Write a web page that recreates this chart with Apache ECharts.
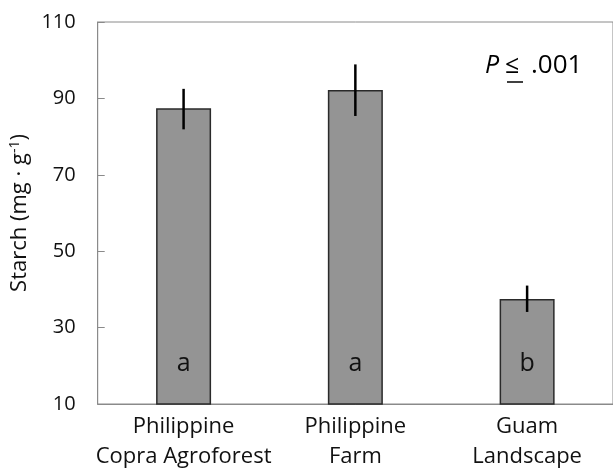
<!DOCTYPE html>
<html><head><meta charset="utf-8">
<script src="https://cdn.jsdelivr.net/npm/echarts@6/dist/echarts.min.js"></script>
<style>html,body{margin:0;padding:0;background:#fff}#c{width:613px;height:472px}</style>
</head><body><div id="c"></div>
<script>
const categories = ['Philippine\nCopra Agroforest', 'Philippine\nFarm', 'Guam\nLandscape'];
const means = [87.4, 92.2, 37.5];
const errLow = [81.9, 85.4, 34.1];
const errHigh = [92.5, 98.9, 41.0];
const letters = ['a', 'a', 'b'];
const yTicks = [10, 30, 50, 70, 90, 110];

const FONT = 'Open Sans';
const chart = echarts.init(document.getElementById('c'), null, {renderer: 'canvas'});
chart.setOption({
  animation: false,
  backgroundColor: '#fff',
  grid: {left: 94, top: 22, width: 525, bottom: 66, show: true, borderColor: '#8a8a8a', borderWidth: 1},
  xAxis: {
    type: 'category', data: categories,
    axisLine: {lineStyle: {color: '#8a8a8a', width: 1}},
    axisTick: {show: false},
    axisLabel: {interval: 0, fontFamily: FONT, fontSize: 22, color: '#111', lineHeight: 30, margin: 8}
  },
  yAxis: {
    type: 'value', min: yTicks[0], max: yTicks[yTicks.length - 1], interval: 20,
    name: '{n|Starch (mg · g}{sup|-1}{n|)}', nameLocation: 'middle', nameGap: 52,
    nameTextStyle: {fontFamily: FONT, fontSize: 22, color: '#111',
      rich: {
        n: {fontFamily: FONT, fontSize: 22, color: '#111'},
        sup: {fontFamily: FONT, fontSize: 14, verticalAlign: 'top', padding: [0, 0, 9, 0], color: '#111'}
      }},
    axisLine: {show: true, lineStyle: {color: '#8a8a8a', width: 1}},
    axisTick: {show: true, inside: true, length: 7, lineStyle: {color: '#8a8a8a'}},
    splitLine: {show: false},
    axisLabel: {fontFamily: FONT, fontSize: 20, color: '#111', margin: 22}
  },
  series: [
    {
      type: 'bar', data: means, barWidth: 55,
      itemStyle: {color: '#949494', borderColor: '#2a2a2a', borderWidth: 1.5},
      label: {show: true, position: 'insideBottom', distance: 28, formatter: p => letters[p.dataIndex],
        fontFamily: FONT, fontSize: 25, color: '#111'}
    },
    {
      type: 'custom',
      data: means.map((m, i) => [i, errLow[i], errHigh[i]]),
      renderItem: function (params, api) {
        const lo = api.coord([api.value(0), api.value(1)]);
        const hi = api.coord([api.value(0), api.value(2)]);
        return {type: 'line', shape: {x1: lo[0], y1: lo[1], x2: hi[0], y2: hi[1]},
          style: {stroke: '#000', lineWidth: 2.5}};
      },
      z: 10
    }
  ],
  graphic: [
    {type: 'text', left: 485, top: 53, style: {text: 'P', font: 'italic 25px ' + FONT, fill: '#000'}},
    {type: 'text', left: 505, top: 53, style: {text: '≤', font: '25px ' + FONT, fill: '#000'}},
    {type: 'line', shape: {x1: 507, y1: 82, x2: 523, y2: 82}, style: {stroke: '#000', lineWidth: 1.5}},
    {type: 'text', left: 531, top: 53, style: {text: '.001', font: '26px ' + FONT, fill: '#000'}}
  ]
});
</script></body></html>
